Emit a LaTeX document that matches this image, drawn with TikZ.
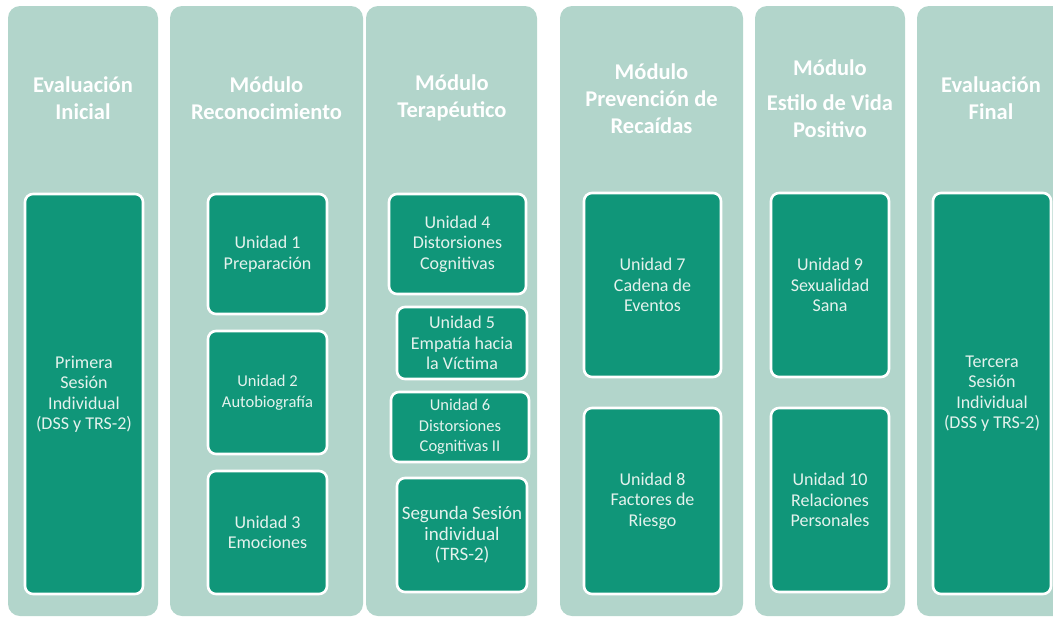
\documentclass[tikz,border=0pt]{standalone}
\usepackage{fontspec}
\setmainfont{Carlito}
\definecolor{panelcol}{RGB}{178,213,203}
\definecolor{unitcol}{RGB}{16,150,121}
\definecolor{unittext}{RGB}{228,242,237}
\tikzset{
	panel/.style={fill=panelcol, rounded corners=12pt},
	header/.style={text=white, font=\bfseries\fontsize{22.5}{27}\selectfont, align=center},
	unit/.style={fill=unitcol, draw=white, line width=2.6pt, rounded corners=8pt,
		text=unittext, font=\fontsize{18}{20.5}\selectfont, align=center,
		inner sep=0pt},
	small/.style={font=\fontsize{16.5}{20.5}\selectfont}
}
\begin{document}
\begin{tikzpicture}[x=1pt, y=-1pt]
	
	\useasboundingbox (0,0) rectangle (1053,622);
	
	% columnas
	\foreach \xa/\xb in {8/158, 170/363, 366/537, 560/743, 755/905, 917/1070}{
		\fill[panel] (\xa,6) rectangle (\xb,616);
	}
	
	% titulos
	\node[header] (h1) at (83,98) {Evaluación\\Inicial};
	\node[header] (h2) at (266.5,98) {Módulo\\Reconocimiento};
	\node[header] (h3) at (452,98) {Módulo\\Terapéutico};
	\node[header] (h4) at (651.5,99) {Módulo\\Prevención de\\Recaídas};
	\node[header] (h5) at (830,99) {Módulo\\[8pt]Estilo de Vida\\Positivo};
	\node[header] (h6) at (991,98) {Evaluación\\Final};
	
	% unidades
	\node[unit, minimum width=118, minimum height=400] (ini) at (84,394) {Primera\\Sesión\\Individual\\(DSS y TRS-2)};
	
	\node[unit, minimum width=119, minimum height=120] (u1) at (267.5,254) {Unidad 1\\Preparación};
	\node[unit, small, minimum width=119, minimum height=123] (u2) at (267.5,392.5) {Unidad 2\\Autobiografía};
	\node[unit, minimum width=119, minimum height=123] (u3) at (267.5,532.5) {Unidad 3\\Emociones};
	
	\node[unit, minimum width=137, minimum height=100] (u4) at (457.5,244) {Unidad 4\\Distorsiones\\Cognitivas};
	\node[unit, minimum width=130, minimum height=72] (u5) at (462,343) {Unidad 5\\Empatía hacia\\la Víctima};
	\node[unit, small, minimum width=138, minimum height=70] (u6) at (460,427) {Unidad 6\\Distorsiones\\Cognitivas II};
	\node[unit, font=\fontsize{19}{20.5}\selectfont, minimum width=130, minimum height=114] (seg) at (462,535) {Segunda Sesión\\individual\\(TRS-2)};
	
	\node[unit, minimum width=137, minimum height=184] (u7) at (652.5,285) {Unidad 7\\Cadena de\\Eventos};
	\node[unit, minimum width=137, minimum height=186] (u8) at (652.5,501) {Unidad 8\\Factores de\\Riesgo};
	
	\node[unit, minimum width=118, minimum height=184] (u9) at (830,285) {Unidad 9\\Sexualidad\\Sana};
	\node[unit, minimum width=118, minimum height=184] (u10) at (830,500) {Unidad 10\\Relaciones\\Personales};
	
	\node[unit, minimum width=118, minimum height=401] (fin) at (992,393.5) {Tercera\\Sesión\\Individual\\(DSS y TRS-2)};
	
\end{tikzpicture}
\end{document}
